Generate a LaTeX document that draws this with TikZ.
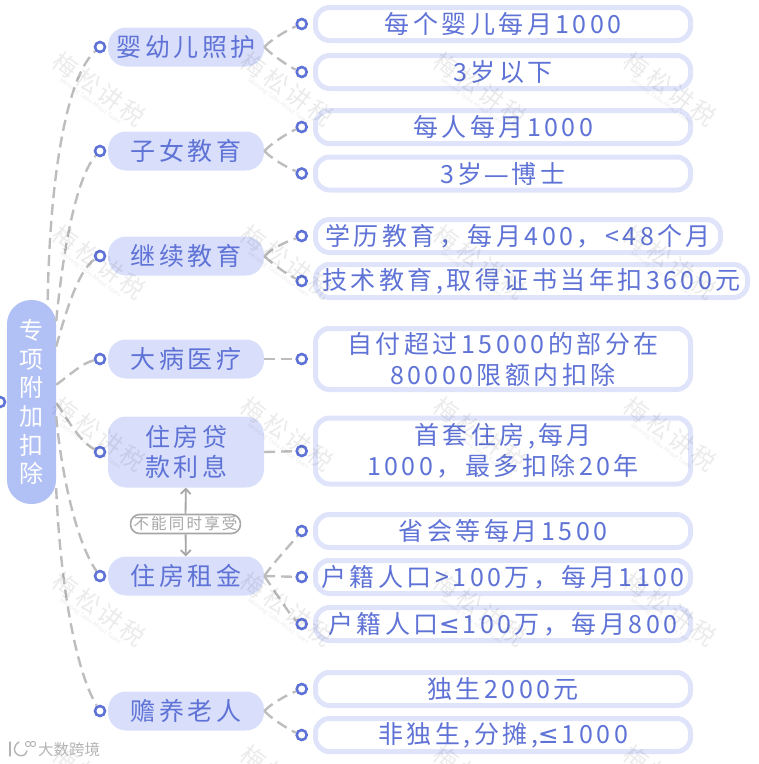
\documentclass[tikz,border=0pt]{standalone}
\usepackage{fontspec}
\setmainfont{Noto Sans CJK SC}
\newfontfamily\cjkwide[LetterSpace=14]{Noto Sans CJK SC}
\newfontfamily\cjkplain{Noto Sans CJK SC}
\newfontfamily\signfont{DejaVu Sans}
\usetikzlibrary{arrows.meta}
\usetikzlibrary{positioning}

\definecolor{rootblue}{HTML}{B1C0F5}
\definecolor{branchblue}{HTML}{D9DFFB}
\definecolor{leafline}{HTML}{DFE4FB}
\definecolor{inkblue}{HTML}{5F73D6}
\definecolor{dashgray}{HTML}{BDBDBD}
\definecolor{notegray}{HTML}{A6A6A6}
\definecolor{logogray}{HTML}{B4B4B4}

\newcommand{\wmtext}{{\cjkwide\fontsize{24}{26}\selectfont 梅松讲税}\\[-4pt]{\cjkplain\fontsize{6}{7}\selectfont Meisong Talks About Taxes}}
\newcommand{\leqsign}{{\signfont ≤}\kern3pt}
\newcommand{\longdash}{\kern1pt{\signfont —}\kern3pt}

\begin{document}
\begin{tikzpicture}[x=1pt,y=-1pt,
                    root node/.style={rectangle,rounded corners=24pt,fill=rootblue,text=white,minimum width=49pt,minimum height=204pt,inner sep=0pt,align=center,font=\cjkwide\fontsize{24}{28.6}\selectfont},
                    branch node/.style={rectangle,rounded corners=18pt,fill=branchblue,text=inkblue,minimum width=156pt,minimum height=39pt,inner sep=0pt,align=center,font=\cjkwide\fontsize{25}{30.5}\selectfont},
                    leaf node/.style={rectangle,rounded corners=14pt,draw=leafline,line width=5pt,text=inkblue,minimum width=375pt,minimum height=33pt,inner sep=0pt,align=center,font=\cjkwide\fontsize{25}{31}\selectfont},
                    dot node/.style={circle,draw=inkblue,fill=white,line width=2.6pt,minimum size=10pt,inner sep=0pt},
                    conn/.style={draw=dashgray,line width=2.4pt,dash pattern=on 11pt off 6pt},
                    note node/.style={rectangle,rounded corners=9pt,draw=notegray,fill=white,line width=1.6pt,text=notegray,inner xsep=3pt,minimum height=19pt,inner ysep=0pt,font=\cjkwide\fontsize{15.5}{17}\selectfont},
                    note arrow/.style={-{Straight Barb[length=5pt,width=10pt]},draw=notegray,line width=1.8pt},
                    water node/.style={rotate=-36,text=black,opacity=0.08,align=center,inner sep=0pt}]

  \clip (0,0) rectangle (759,764);

  \node[root node] (root) at (31.5,402) {专\\项\\附\\加\\扣\\除};
  \node[dot node] (rootdot) at (0,402) {};

  \node[branch node] (care) at (186,47) {婴幼儿照护};
  \node[branch node] (child) at (186,151) {子女教育};
  \node[branch node] (study) at (186,256) {继续教育};
  \node[branch node] (ill) at (186,359) {大病医疗};
  \node[branch node,minimum height=71pt] (loan) at (186,452) {住房贷\\款利息};
  \node[branch node] (rent) at (186,576) {住房租金};
  \node[branch node] (elder) at (186,711) {赡养老人};

  \node[dot node] (caredot) [left=1.5pt of care] {};
  \node[dot node] (childdot) [left=1.5pt of child] {};
  \node[dot node] (studydot) [left=1.5pt of study] {};
  \node[dot node] (illdot) [left=1.5pt of ill] {};
  \node[dot node] (loandot) [left=1.5pt of loan] {};
  \node[dot node] (rentdot) [left=1.5pt of rent] {};
  \node[dot node] (elderdot) [left=1.5pt of elder] {};

  \node[leaf node] (care1) at (503,24) {每个婴儿每月1000};
  \node[leaf node] (care2) at (503,72) {3岁以下};
  \node[leaf node] (child1) at (503,127) {每人每月1000};
  \node[leaf node] (child2) at (503,173.5) {3岁\longdash 博士};
  \node[leaf node,minimum width=405pt] (study1) at (518,236) {学历教育，每月400，<48个月};
  \node[leaf node,minimum width=432pt] (study2) at (531.5,281) {技术教育,取得证书当年扣3600元};
  \node[leaf node,minimum height=61pt] (ill1) at (503,359) {自付超过15000的部分在\\80000限额内扣除};
  \node[leaf node,minimum height=66pt] (loan1) at (503,451) {首套住房,每月\\1000，最多扣除20年};
  \node[leaf node] (rent1) at (503,531) {省会等每月1500};
  \node[leaf node] (rent2) at (503,577) {户籍人口>100万，每月1100};
  \node[leaf node] (rent3) at (503,624) {户籍人口\leqsign 100万，每月800};
  \node[leaf node] (elder1) at (503,689) {独生2000元};
  \node[leaf node] (elder2) at (503,735) {非独生,分摊,\leqsign 1000};

  \node[dot node] (care1dot) [left=5pt of care1] {};
  \node[dot node] (care2dot) [left=5pt of care2] {};
  \node[dot node] (child1dot) [left=5pt of child1] {};
  \node[dot node] (child2dot) [left=5pt of child2] {};
  \node[dot node] (study1dot) [left=5pt of study1] {};
  \node[dot node] (study2dot) [left=5pt of study2] {};
  \node[dot node] (ill1dot) [left=5pt of ill1] {};
  \node[dot node] (loan1dot) [left=5pt of loan1] {};
  \node[dot node] (rent1dot) [left=5pt of rent1] {};
  \node[dot node] (rent2dot) [left=5pt of rent2] {};
  \node[dot node] (rent3dot) [left=5pt of rent3] {};
  \node[dot node] (elder1dot) [left=5pt of elder1] {};
  \node[dot node] (elder2dot) [left=5pt of elder2] {};

  \node[note node] (note) at (185.5,524) {不能同时享受};

  % root to branches
  \draw[conn] (root.81) .. controls (50,170) and (68,75) .. (caredot);
  \draw[conn] (root.73) .. controls (64,240) and (78,175) .. (childdot);
  \draw[conn] (root.66) .. controls (65,315) and (78,270) .. (studydot);
  \draw[conn] (root.35) .. controls (70,375) and (82,363) .. (illdot);
  \draw[conn] (root.-2) .. controls (68,420) and (80,442) .. (loandot);
  \draw[conn] (root.-30) .. controls (62,480) and (78,545) .. (rentdot);
  \draw[conn] (root.-74) .. controls (60,580) and (75,670) .. (elderdot);

  % branches to leaves
  \draw[conn] (care.east) .. controls +(10,-10) and +(-10,4) .. (care1dot);
  \draw[conn] (care.east) .. controls +(10,10) and +(-10,-4) .. (care2dot);
  \draw[conn] (child.east) .. controls +(10,-10) and +(-10,4) .. (child1dot);
  \draw[conn] (child.east) .. controls +(10,10) and +(-10,-4) .. (child2dot);
  \draw[conn] (study.east) .. controls +(10,-10) and +(-10,4) .. (study1dot);
  \draw[conn] (study.east) .. controls +(10,10) and +(-10,-4) .. (study2dot);
  \draw[conn] (ill.east) -- (ill1dot);
  \draw[conn] (loan.east) -- (loan1dot);
  \draw[conn] (rent.east) .. controls +(10,-14) and +(-10,12) .. (rent1dot);
  \draw[conn] (rent.east) -- (rent2dot);
  \draw[conn] (rent.east) .. controls +(10,14) and +(-10,-6) .. (rent3dot);
  \draw[conn] (elder.east) .. controls +(10,-10) and +(-10,4) .. (elder1dot);
  \draw[conn] (elder.east) .. controls +(10,10) and +(-10,-4) .. (elder2dot);

  \draw[note arrow] (note) -- (loan);
  \draw[note arrow] (note) -- (rent);

  % watermarks
  \node[water node] (wm1) at (97,92) {\wmtext};
  \node[water node] (wm2) at (285,92) {\wmtext};
  \node[water node] (wm3) at (478,92) {\wmtext};
  \node[water node] (wm4) at (668,92) {\wmtext};
  \node[water node] (wm5) at (97,265) {\wmtext};
  \node[water node] (wm6) at (285,265) {\wmtext};
  \node[water node] (wm7) at (478,265) {\wmtext};
  \node[water node] (wm8) at (668,265) {\wmtext};
  \node[water node] (wm9) at (97,437) {\wmtext};
  \node[water node] (wm10) at (285,437) {\wmtext};
  \node[water node] (wm11) at (478,437) {\wmtext};
  \node[water node] (wm12) at (668,437) {\wmtext};
  \node[water node] (wm13) at (97,612) {\wmtext};
  \node[water node] (wm14) at (285,612) {\wmtext};
  \node[water node] (wm15) at (478,612) {\wmtext};
  \node[water node] (wm16) at (668,612) {\wmtext};
  \node[water node] (wm17) at (97,785) {\wmtext};
  \node[water node] (wm18) at (285,785) {\wmtext};
  \node[water node] (wm19) at (478,785) {\wmtext};
  \node[water node] (wm20) at (668,785) {\wmtext};

  % logo
  \draw[draw=logogray,line width=1.4pt,line cap=round] (10,742) -- (10,756);
  \draw[draw=logogray,line width=1.4pt,line cap=round] (19,742) .. controls (13,746) and (13,752) .. (18,755) .. controls (22,757) and (26,755) .. (27,751);
  \draw[draw=logogray,line width=1pt] (28,744) circle (2.6pt);
  \draw[draw=logogray,line width=1pt] (33,744) circle (2.6pt);
  \node[text=logogray,font=\cjkplain\fontsize{15.5}{17}\selectfont,inner sep=0pt] (logo) at (69,749.5) {大数跨境};
\end{tikzpicture}
\end{document}
